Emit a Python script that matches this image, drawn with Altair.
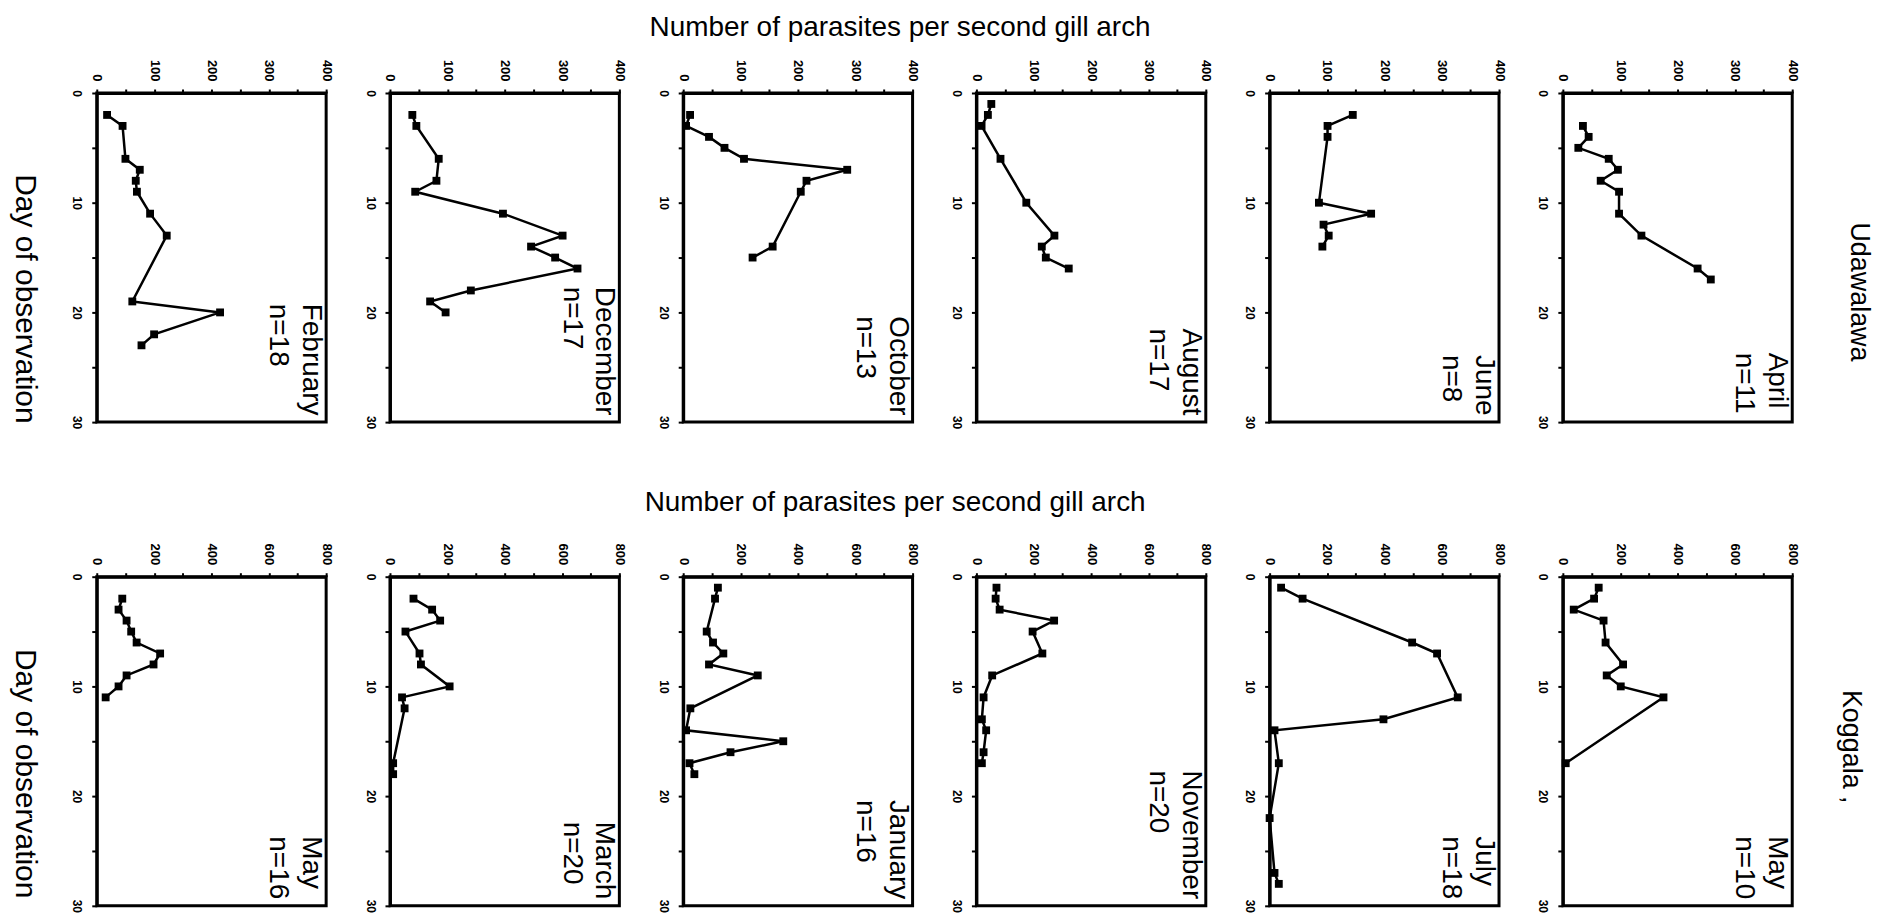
import altair as alt
import pandas as pd

FONT = "Liberation Sans"

# ---------------- Udawalawa (top row, left to right) ----------------
feb_day = [2, 3, 6, 7, 8, 9, 11, 13, 19, 20, 22, 23]
feb_val = [18, 45, 50, 75, 68, 70, 93, 122, 62, 215, 100, 78]
dec_day = [2, 3, 6, 8, 9, 11, 13, 14, 15, 16, 18, 19, 20]
dec_val = [39, 46, 85, 81, 44, 197, 301, 246, 288, 327, 141, 70, 97]
oct_day = [2, 3, 4, 5, 6, 7, 8, 9, 14, 15]
oct_val = [12, 5, 45, 72, 106, 286, 215, 205, 156, 121]
aug_day = [1, 2, 3, 6, 10, 13, 14, 15, 16]
aug_val = [26, 20, 9, 42, 87, 136, 114, 121, 161]
jun_day = [2, 3, 4, 10, 11, 12, 13, 14]
jun_val = [145, 101, 101, 86, 177, 94, 103, 92]
apr_day = [3, 4, 5, 6, 7, 8, 9, 11, 13, 16, 17]
apr_val = [35, 45, 27, 80, 96, 66, 98, 98, 137, 235, 258]

# ---------------- Koggala (bottom row, left to right) ----------------
may16_day = [2, 3, 4, 5, 6, 7, 8, 9, 10, 11]
may16_val = [89, 76, 104, 120, 139, 221, 198, 104, 76, 31]
mar_day = [2, 3, 4, 5, 7, 8, 10, 11, 12, 17, 18]
mar_val = [82, 147, 175, 54, 103, 108, 208, 42, 51, 11, 11]
jan_day = [1, 2, 5, 6, 7, 8, 9, 12, 14, 15, 16, 17, 18]
jan_val = [121, 111, 82, 104, 140, 90, 260, 25, 10, 349, 165, 22, 39]
nov_day = [1, 2, 3, 4, 5, 7, 9, 11, 13, 14, 16, 17]
nov_val = [70, 67, 81, 271, 196, 230, 55, 25, 19, 34, 25, 19]
jul_day = [1, 2, 6, 7, 11, 13, 14, 17, 22, 27, 28]
jul_val = [40, 115, 497, 584, 656, 397, 17, 32, 0, 17, 32]
may10_day = [1, 2, 3, 4, 6, 8, 9, 10, 11, 17]
may10_val = [125, 109, 38, 142, 149, 210, 153, 202, 351, 10]

top_months = ["February", "December", "October", "August", "June", "April"]
top_n = ["n=18", "n=17", "n=13", "n=17", "n=8", "n=11"]
bot_months = ["May", "March", "January", "November", "July", "May"]
bot_n = ["n=16", "n=20", "n=16", "n=20", "n=18", "n=10"]

axis_title_x = "Number of parasites per second gill arch"
axis_title_y = "Day of observation"
site_top = "Udawalawa"
site_bottom = "Koggala ,"

W, H = 230, 330
LABEL_FS = 28

# approximate Arial advance widths (em) for placing the month labels
CW = {'A': .667, 'p': .556, 'r': .333, 'i': .222, 'l': .222, 'J': .5, 'u': .556,
      'n': .556, 'e': .556, 'g': .556, 's': .5, 't': .278, 'O': .778, 'c': .5,
      'o': .556, 'b': .556, 'D': .722, 'm': .833, 'F': .611, 'a': .556, 'y': .5,
      'M': .833, 'h': .556, 'N': .722, 'v': .5, '=': .584, ' ': .278}


def text_w(s):
    return sum(CW.get(ch, .556) for ch in s) * LABEL_FS


def panel(day, val, xmax, month, ntxt, xtitle=None, ytitle=None):
    df = pd.DataFrame({"day": day, "val": val})
    step = xmax // 8
    major = xmax // 4
    xkw = dict(orient="top", values=list(range(0, xmax + 1, step)),
               labelExpr=f"datum.value % {major} ? '' : datum.label",
               labelAngle=90, labelFlush=False, labelOverlap=False,
               labelFontSize=13, tickSize=4, labelPadding=8, grid=False)
    if xtitle:
        xkw.update(title=xtitle[0], titleX=xtitle[1], titleY=xtitle[2],
                   titleAngle=0, titleAlign="center", titleBaseline="middle",
                   titleFontSize=28)
    else:
        xkw.update(title=None)
    ykw = dict(orient="left", values=list(range(0, 31, 5)),
               labelExpr="datum.value % 10 ? '' : datum.label",
               labelAngle=90, labelFlush=False, labelOverlap=False,
               labelFontSize=12, tickSize=5, labelPadding=10, grid=False)
    if ytitle:
        ykw.update(title=ytitle[0], titleX=ytitle[1], titleY=ytitle[2],
                   titleAngle=90, titleAlign="center", titleBaseline="middle",
                   titleFontSize=ytitle[3])
    else:
        ykw.update(title=None)

    x = alt.X("val:Q", scale=alt.Scale(domain=[0, xmax], nice=False),
              axis=alt.Axis(**xkw))
    y = alt.Y("day:Q", scale=alt.Scale(domain=[0, 30], reverse=True, nice=False),
              axis=alt.Axis(**ykw))
    base = alt.Chart(df)
    line = base.mark_line(color="black", strokeWidth=2.5).encode(
        x=x, y=y, order=alt.Order("day:Q"))
    pts = base.mark_point(shape="square", filled=True, color="black", size=62,
                          opacity=1).encode(x=x, y=y)
    end_px = H * 29.4 / 30
    start_px = end_px - max(text_w(month), text_w(ntxt))
    lab = alt.Chart(pd.DataFrame({"t": [month + "\n" + ntxt]})).mark_text(
        angle=90, align="left", baseline="top", font=FONT, fontSize=LABEL_FS,
        lineHeight=33, lineBreak="\n", color="black"
    ).encode(text="t:N", x=alt.value(W - 1), y=alt.value(start_px))
    return alt.layer(line, pts, lab).properties(width=W, height=H)


top_data = [(feb_day, feb_val), (dec_day, dec_val), (oct_day, oct_val),
            (aug_day, aug_val), (jun_day, jun_val), (apr_day, apr_val)]
bot_data = [(may16_day, may16_val), (mar_day, mar_val), (jan_day, jan_val),
            (nov_day, nov_val), (jul_day, jul_val), (may10_day, may10_val)]

panels = []
for i, ((d, v), m, n) in enumerate(zip(top_data, top_months, top_n)):
    xt = (axis_title_x, 217, -66) if i == 2 else None
    yt = None
    if i == 0:
        yt = (axis_title_y, -72, 206, 30)
    elif i == 5:
        yt = (site_top, 296, 199, 27)
    panels.append(panel(d, v, 400, m, n, xt, yt))

for i, ((d, v), m, n) in enumerate(zip(bot_data, bot_months, bot_n)):
    xt = (axis_title_x, 212, -74) if i == 2 else None
    yt = None
    if i == 0:
        yt = (axis_title_y, -72, 197, 30)
    elif i == 5:
        yt = (site_bottom, 288, 170, 27)
    panels.append(panel(d, v, 800, m, n, xt, yt))

chart = alt.concat(
    *panels, columns=6, spacing={"row": 155, "column": 64}, bounds="flush"
).properties(
    padding={"left": 0, "top": 2, "right": 5, "bottom": 5},
    background="white",
).configure_view(
    stroke="black", strokeWidth=3
).configure_axis(
    domainColor="black", domainWidth=3, tickColor="black", tickWidth=2,
    labelFont=FONT, labelFontWeight="bold", labelColor="black",
    titleFont=FONT, titleColor="black", titleFontWeight="normal",
)

chart.save("out.html", embed_options={"renderer": "svg", "actions": False})
